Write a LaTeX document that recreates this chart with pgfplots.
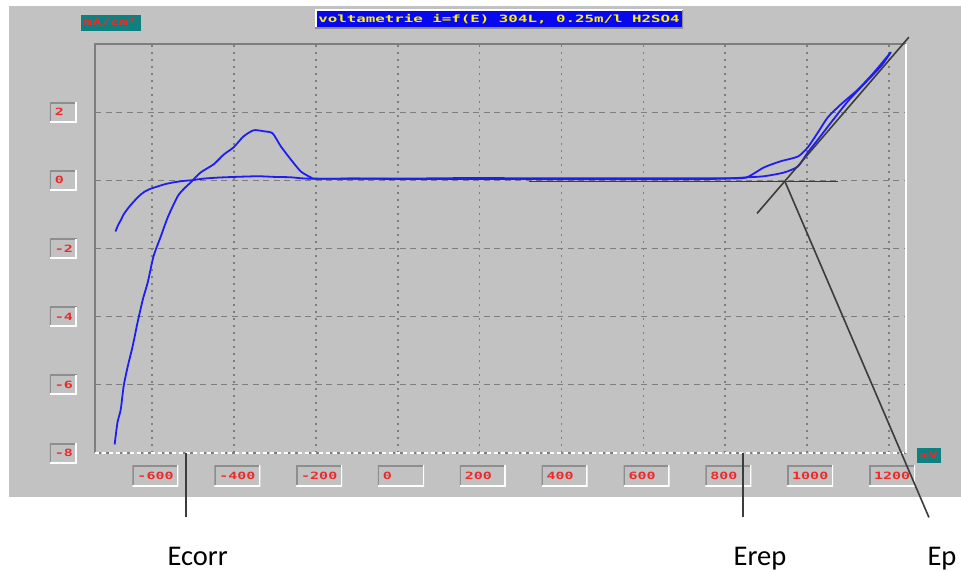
\documentclass[border=0pt]{standalone}
\usepackage{pgfplots}
\pgfplotsset{compat=1.18}
\usepackage{graphicx}
\usepackage{fontspec}
\setmainfont{Carlito}
\newfontfamily\monob{DejaVu Sans Mono}

\definecolor{panel}{HTML}{C2C2C2}
\definecolor{gridc}{HTML}{7E7E7E}
\definecolor{framec}{HTML}{7E7E7E}
\definecolor{bevdark}{HTML}{8E8E8E}
\definecolor{tealbox}{HTML}{0E8080}
\definecolor{redtxt}{HTML}{F02828}
\definecolor{curve}{HTML}{1E1EF0}
\definecolor{titleblue}{HTML}{0808F0}
\definecolor{annot}{HTML}{3C3C3C}

% bitmap-like wide label font
\newcommand{\lbl}[1]{{\monob\bfseries\fontsize{10}{10}\selectfont\scalebox{1.5}[1]{#1}}}
\newcommand{\titlelbl}[1]{{\monob\bfseries\fontsize{10}{10}\selectfont\scalebox{1.58}[1]{#1}}}
\newcommand{\smalllbl}[1]{{\monob\bfseries\fontsize{9}{9}\selectfont\scalebox{1.65}[1]{#1}}}

\tikzset{
  sunken/.style={fill=panel, path picture={
    \draw[line width=3pt, bevdark] (path picture bounding box.south west) -- (path picture bounding box.north west) -- (path picture bounding box.north east);
    \draw[line width=3pt, white] (path picture bounding box.north east) -- (path picture bounding box.south east) -- (path picture bounding box.south west);
  }},
  raised/.style={path picture={
    \draw[line width=3pt, white] (path picture bounding box.south west) -- (path picture bounding box.north west) -- (path picture bounding box.north east);
    \draw[line width=3pt, bevdark] (path picture bounding box.north east) -- (path picture bounding box.south east) -- (path picture bounding box.south west);
  }},
}

\begin{document}
\begin{tikzpicture}
\path[use as bounding box] (0,0) rectangle (961pt,-572pt);
\fill[white] (0,0) rectangle (961pt,-572pt);
\fill[panel] (9pt,-6pt) rectangle (961pt,-497pt);

\begin{axis}[
  at={(95pt,-44pt)}, anchor=north west,
  scale only axis, width=811pt, height=409pt,
  xmin=-740, xmax=1242, ymin=-8, ymax=4,
  clip=false,
  xtick={-600,-400,...,1200},
  ytick={-8,-6,...,2},
  xticklabels={\lbl{-600},\lbl{-400},\lbl{-200},\lbl{0},\lbl{200},\lbl{400},\lbl{600},\lbl{800},\lbl{1000},\lbl{1200}},
  yticklabels={\lbl{-8},\lbl{-6},\lbl{-4},\lbl{-2},\lbl{0},\lbl{2}},
  axis line style={draw=none},
  tick style={draw=none},
  major tick length=0pt,
  grid=major,
  x grid style={gridc, line width=1.6pt, dash pattern=on 1.8pt off 5.2pt},
  y grid style={gridc, line width=1.2pt, dash pattern=on 6pt off 4.5pt},
  xticklabel style={anchor=north west, xshift=-20pt, yshift=-12pt, sunken,
    text width=36pt, inner xsep=5pt, inner ysep=0pt, minimum height=21pt, align=left, text=redtxt},
  yticklabel style={anchor=east, xshift=-18pt, sunken,
    text width=17pt, inner xsep=5pt, inner ysep=0pt, minimum height=20pt, align=left, text=redtxt},
]
% sunken frame of the plotting area
\draw[framec, line width=2pt] (rel axis cs:0,0) -- (rel axis cs:0,1) -- (rel axis cs:1,1);
\draw[white, line width=2pt] (rel axis cs:1,1) -- (rel axis cs:1,0);
\draw[white, line width=1.5pt, dash pattern=on 4pt off 3pt] (rel axis cs:0,0) -- (rel axis cs:1,0);

% forward scan
\addplot[curve, line width=1.8pt, mark=none, smooth, tension=0.4] coordinates {
(-692,-7.75) (-685,-7.10) (-677,-6.72) (-670,-6.04) (-660,-5.46) (-648,-4.87)
(-636,-4.17) (-623,-3.49) (-611,-2.99) (-597,-2.23) (-579,-1.64) (-562,-1.08)
(-538,-0.47) (-522,-0.24) (-506,-0.06) (-482,0.23) (-450,0.47) (-425,0.76)
(-401,0.97) (-377,1.29) (-352,1.47) (-328,1.44) (-306,1.38) (-286,1.00)
(-262,0.62) (-237,0.26) (-213,0.09) (-200,0.05) (-100,0.05) (0,0.05)
(100,0.06) (200,0.07) (300,0.06) (400,0.06) (500,0.06) (600,0.06)
(700,0.06) (800,0.06) (851,0.08) (895,0.38) (936,0.56) (978,0.70)
(1002,0.97) (1027,1.41) (1051,1.85) (1083,2.23) (1125,2.67) (1164,3.17)
(1205,3.76)
};
% reverse scan
\addplot[curve, line width=1.8pt, mark=none, smooth, tension=0.4] coordinates {
(1205,3.76) (1181,3.35) (1139,2.82) (1100,2.32) (1059,1.70) (1027,1.20)
(1002,0.82) (978,0.41) (944,0.23) (895,0.12) (856,0.09) (800,0.05)
(700,0.03) (600,0.03) (500,0.03) (400,0.03) (300,0.04) (200,0.04)
(100,0.04) (0,0.04) (-100,0.05) (-220,0.05) (-262,0.09) (-300,0.10)
(-342,0.12) (-400,0.10) (-440,0.08) (-475,0.05) (-506,0.00) (-526,-0.02)
(-548,-0.06) (-568,-0.11) (-587,-0.18) (-605,-0.25) (-621,-0.35) (-633,-0.47)
(-645,-0.62) (-658,-0.80) (-670,-1.00) (-676,-1.15) (-683,-1.30) (-690,-1.50)
};

% construction lines
\draw[annot, line width=1.6pt] (axis cs:320,-0.04) -- (axis cs:1076,-0.04);
\draw[annot, line width=1.6pt] (axis cs:878,-0.97) -- (axis cs:1249,4.2);
\draw[annot, line width=1.6pt] (axis cs:946,-0.03) -- (axis cs:1298,-9.89);
\draw[annot, line width=1.6pt] (axis cs:-518,-8) -- (axis cs:-518,-9.89);
\draw[annot, line width=1.6pt] (axis cs:843,-8) -- (axis cs:843,-9.89);

\node[anchor=base, font=\fontsize{28.5}{30}\selectfont] at (axis cs:-489,-11.30) {Ecorr};
\node[anchor=base, font=\fontsize{28.5}{30}\selectfont] at (axis cs:885,-11.30) {Erep};
\node[anchor=base, font=\fontsize{28.5}{30}\selectfont] at (axis cs:1330,-11.30) {Ep};
\end{axis}

% header boxes
\node[fill=titleblue, raised, minimum width=368pt, minimum height=19pt, inner sep=0pt, text=yellow]
  at (499pt,-19.5pt) {\titlelbl{voltametrie i=f(E) 304L, 0.25m/l H2SO4}};
\node[fill=tealbox, minimum width=60pt, minimum height=16pt, inner sep=0pt, text=redtxt]
  at (110.5pt,-23pt) {\smalllbl{mA/cm²}};
\node[fill=tealbox, minimum width=24pt, minimum height=15pt, inner sep=0pt, text=redtxt]
  at (929pt,-455pt) {\smalllbl{mV}};
\end{tikzpicture}
\end{document}
